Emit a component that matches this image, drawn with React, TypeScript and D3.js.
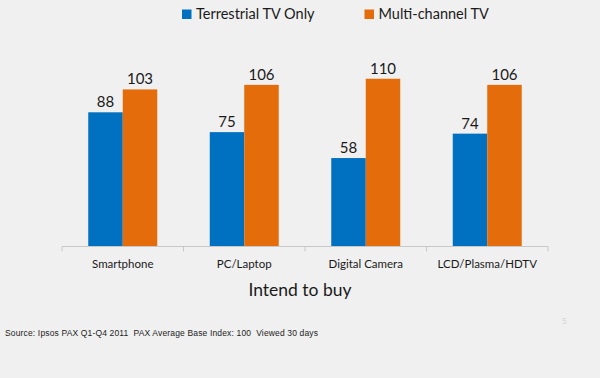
import React from "react";
import * as d3 from "d3";

const categories = ["Smartphone", "PC/Laptop", "Digital Camera", "LCD/Plasma/HDTV"];
const seriesNames = ["Terrestrial TV Only", "Multi-channel TV"];
const terrestrial = [88, 75, 58, 74];
const multichannel = [103, 106, 110, 106];
const colors = ["#0070C0", "#E46C0A"];

export default function App() {
  const W = 600, H = 378;
  const x = d3.scaleBand<string>().domain(categories).range([62, 548]).paddingInner(0).paddingOuter(0);
  const inner = d3.scaleBand<number>().domain([0, 1]).range([0, 69]);
  const y = d3.scaleLinear().domain([0, 110]).range([246.5, 246.5 - 110 * 1.525]);
  const series = [terrestrial, multichannel];
  const bw = x.bandwidth();
  const font = "Lato, 'Open Sans', sans-serif";
  return (
    <svg width={W} height={H} style={{ position: "absolute", left: 0, top: 0, background: "#f0f0f0" }}>
      <rect x={0} y={0} width={W} height={H} fill="#f0f0f0" />
      {/* legend */}
      {seriesNames.map((n, i) => {
        const lx = i === 0 ? 182 : 364.5;
        return (
          <g key={n}>
            <rect x={lx} y={9.5} width={9.5} height={9.5} fill={colors[i]} />
            <text x={lx + 14} y={19} fontSize={14.5} fontFamily={font} fill="#1a1a1a">{n}</text>
          </g>
        );
      })}
      {/* bars */}
      {categories.map((c, ci) => {
        const gx = (x(c) as number) + bw / 2 - 34.5;
        return (
          <g key={c}>
            {series.map((s, si) => {
              const bx = gx + (inner(si) as number);
              const v = s[ci];
              return (
                <g key={si}>
                  <rect x={bx} y={y(v)} width={inner.bandwidth()} height={y(0) - y(v)} fill={colors[si]} />
                  <text x={bx + inner.bandwidth() / 2} y={y(v) - 5} textAnchor="middle" fontSize={15} fontFamily={font} fill="#1a1a1a">{v}</text>
                </g>
              );
            })}
            <text x={(x(c) as number) + bw / 2} y={268} textAnchor="middle" fontSize={11.5} fontFamily={font} fill="#1a1a1a">{c}</text>
          </g>
        );
      })}
      {/* axis */}
      <line x1={62} x2={548} y1={y(0)} y2={y(0)} stroke="#c8c8c8" strokeWidth={1} />
      {[...categories.map((c) => x(c) as number), 548].map((t, i) => (
        <line key={i} x1={t} x2={t} y1={y(0)} y2={y(0) + 5} stroke="#c8c8c8" strokeWidth={1} />
      ))}
      <text x={300} y={296} textAnchor="middle" fontSize={17.5} fontFamily={font} fill="#1a1a1a">Intend to buy</text>
      <text x={5} y={336} fontSize={8.5} fontFamily="'Liberation Sans', Arial, sans-serif" fill="#222" style={{ whiteSpace: "pre" }} textLength={313} lengthAdjust="spacing">Source: Ipsos PAX Q1-Q4 2011  PAX Average Base Index: 100  Viewed 30 days</text>
      <text x={562} y={324} fontSize={8} fontFamily={font} fill="#d0d0d0">5</text>
    </svg>
  );
}
